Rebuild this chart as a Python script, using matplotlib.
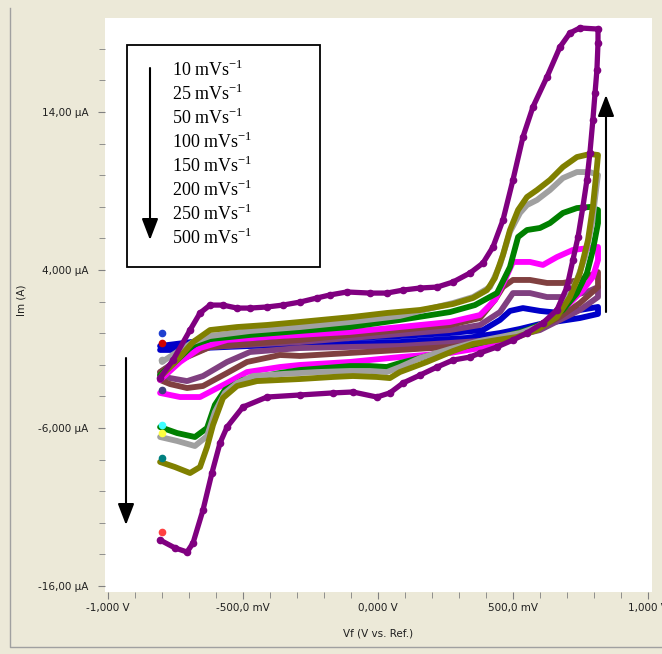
import matplotlib
matplotlib.use("Agg")
import matplotlib.pyplot as plt
from matplotlib.lines import Line2D
from matplotlib.patches import Rectangle

# cyclic voltammograms, potential in V, current in uA (forward scan then reverse)
v_10 = [-0.807, -0.659, -0.289, 0.081, 0.267, 0.389, 0.452, 0.489, 0.537, 0.600, 0.674, 0.748, 0.815,
        0.815, 0.748, 0.674, 0.600, 0.526, 0.452, 0.330, 0.081, -0.104, -0.289, -0.474, -0.659, -0.770, -0.807]
i_10 = [-0.81, -0.49, -0.43, -0.18, 0.01, 0.20, 0.84, 1.41, 1.59, 1.41, 1.28, 1.47, 1.66,
        1.22, 0.96, 0.77, 0.58, 0.27, 0.01, -0.30, -0.56, -0.68, -0.75, -0.81, -0.94, -1.06, -1.06]

v_25 = [-0.807, -0.733, -0.622, -0.289, 0.081, 0.267, 0.378, 0.452, 0.500, 0.563, 0.626, 0.700, 0.774, 0.815,
        0.815, 0.748, 0.674, 0.600, 0.526, 0.452, 0.378, 0.267, 0.081, -0.104, -0.289, -0.474, -0.559, -0.648,
        -0.707, -0.770, -0.807]
i_25 = [-2.46, -1.57, -0.87, -0.56, -0.05, 0.20, 0.52, 1.34, 2.54, 2.54, 2.29, 2.29, 2.61, 2.92,
        2.29, 1.47, 0.84, 0.20, -0.11, -0.37, -0.49, -0.62, -0.81, -0.87, -0.94, -1.19, -1.82, -2.71,
        -3.03, -2.84, -2.65]

v_50 = [-0.807, -0.733, -0.622, -0.289, 0.081, 0.267, 0.378, 0.433, 0.463, 0.500, 0.563, 0.626, 0.685, 0.748, 0.815,
        0.815, 0.748, 0.674, 0.600, 0.526, 0.452, 0.378, 0.267, 0.081, -0.104, -0.289, -0.363, -0.485, -0.559,
        -0.648, -0.707, -0.770, -0.807]
i_50 = [-2.46, -1.70, -0.87, -0.43, 0.20, 0.52, 0.96, 2.10, 2.92, 3.37, 3.37, 3.18, 3.18, 3.37, 3.87,
        2.92, 1.91, 1.03, 0.39, -0.05, -0.43, -0.68, -0.87, -1.06, -1.25, -1.44, -1.38, -1.82, -2.52,
        -3.34, -3.47, -3.22, -2.96]

v_100 = [-0.807, -0.733, -0.659, -0.559, -0.363, -0.104, 0.081, 0.267, 0.378, 0.433, 0.470, 0.500, 0.563, 0.611,
         0.663, 0.722, 0.815,
         0.815, 0.796, 0.759, 0.711, 0.648, 0.589, 0.515, 0.452, 0.378, 0.267, 0.081, -0.104, -0.289, -0.363,
         -0.485, -0.559, -0.659, -0.733, -0.807]
i_100 = [-2.96, -1.82, -0.94, -0.43, -0.18, 0.08, 0.39, 0.71, 1.15, 2.10, 3.37, 4.51, 4.51, 4.32,
         4.82, 5.27, 5.46,
         4.63, 3.56, 2.73, 1.91, 1.03, 0.39, -0.11, -0.56, -0.94, -1.25, -1.51, -1.82, -2.01, -2.14,
         -2.46, -3.15, -4.04, -4.04, -3.78]

v_150 = [-0.807, -0.744, -0.685, -0.622, -0.474, -0.289, -0.104, 0.081, 0.267, 0.359, 0.441, 0.489, 0.519, 0.552,
         0.600, 0.637, 0.685, 0.737, 0.785, 0.815,
         0.815, 0.796, 0.774, 0.737, 0.685, 0.626, 0.552, 0.452, 0.378, 0.267, 0.156, 0.081, 0.033, -0.030,
         -0.104, -0.289, -0.363, -0.500, -0.567, -0.604, -0.633, -0.678, -0.744, -0.807]
i_150 = [-2.65, -1.70, -0.75, -0.37, -0.11, 0.14, 0.39, 0.84, 1.34, 1.78, 2.54, 4.19, 6.09, 6.53,
         6.66, 6.97, 7.61, 7.92, 7.99, 7.80,
         6.97, 5.27, 3.81, 2.54, 1.47, 0.71, 0.20, -0.30, -0.62, -1.06, -1.57, -1.89, -2.14, -2.08,
         -2.08, -2.33, -2.52, -2.96, -3.59, -4.54, -6.00, -6.57, -6.32, -5.94]

v_200 = [-0.800, -0.744, -0.685, -0.622, -0.474, -0.289, -0.104, 0.081, 0.278, 0.352, 0.415, 0.452, 0.489, 0.526,
         0.552, 0.589, 0.637, 0.685, 0.737, 0.785, 0.815,
         0.811, 0.793, 0.767, 0.737, 0.700, 0.648, 0.589, 0.526, 0.452, 0.378, 0.267, 0.156, 0.081, 0.033,
         -0.030, -0.104, -0.226, -0.352, -0.463, -0.522, -0.567, -0.604, -0.633, -0.678, -0.744, -0.807]
i_200 = [-1.82, -1.19, -0.56, -0.18, 0.14, 0.39, 0.71, 1.09, 1.91, 2.29, 2.92, 4.32, 6.41, 7.61,
         8.11, 8.43, 9.06, 9.82, 10.20, 10.20, 10.01,
         9.51, 6.97, 4.82, 3.37, 2.10, 1.03, 0.39, 0.01, -0.24, -0.49, -1.00, -1.57, -2.14, -2.46,
         -2.39, -2.39, -2.46, -2.58, -2.71, -3.15, -3.78, -4.99, -6.51, -7.14, -6.82, -6.57]

v_250 = [-0.800, -0.744, -0.685, -0.622, -0.522, -0.411, -0.289, -0.093, 0.033, 0.156, 0.278, 0.352, 0.404, 0.433,
         0.463, 0.489, 0.519, 0.552, 0.589, 0.637, 0.685, 0.737, 0.785, 0.815,
         0.811, 0.796, 0.778, 0.748, 0.711, 0.663, 0.589, 0.515, 0.441, 0.352, 0.278, 0.181, 0.081, 0.044,
         -0.004, -0.093, -0.167, -0.289, -0.448, -0.522, -0.574, -0.611, -0.633, -0.659, -0.696, -0.752, -0.807]
i_250 = [-2.65, -1.70, -0.56, 0.20, 0.39, 0.52, 0.71, 1.03, 1.28, 1.47, 1.85, 2.23, 2.73, 3.49,
         4.95, 6.53, 7.80, 8.62, 9.06, 9.70, 10.52, 11.15, 11.34, 11.28,
         10.52, 7.99, 5.90, 3.81, 2.29, 1.03, 0.20, -0.24, -0.43, -0.68, -1.13, -1.82, -2.46, -2.84,
         -2.77, -2.71, -2.77, -2.90, -3.03, -3.34, -4.10, -5.81, -7.20, -8.47, -8.85, -8.47, -8.15]

v_500 = [-0.807, -0.759, -0.696, -0.659, -0.622, -0.574, -0.522, -0.474, -0.411, -0.352, -0.289, -0.226, -0.178,
         -0.115, -0.030, 0.033, 0.093, 0.156, 0.219, 0.278, 0.341, 0.389, 0.426, 0.463, 0.500, 0.537, 0.574,
         0.626, 0.674, 0.711, 0.748, 0.815,
         0.815, 0.811, 0.804, 0.796, 0.785, 0.774, 0.759, 0.741, 0.722, 0.700, 0.663, 0.611, 0.552, 0.500,
         0.441, 0.378, 0.341, 0.278, 0.219, 0.156, 0.093, 0.044, -0.004, -0.093, -0.167, -0.289, -0.411,
         -0.500, -0.559, -0.585, -0.615, -0.648, -0.685, -0.707, -0.752, -0.807]
i_500 = [-2.84, -1.70, 0.20, 1.28, 1.78, 1.78, 1.59, 1.59, 1.66, 1.78, 1.97, 2.23, 2.42,
         2.61, 2.54, 2.54, 2.73, 2.86, 2.92, 3.24, 3.81, 4.44, 5.46, 7.16, 9.70, 12.42, 14.32,
         16.22, 18.11, 19.00, 19.32, 19.25,
         18.37, 16.66, 15.20, 13.49, 11.41, 9.70, 7.99, 6.09, 4.63, 2.92, 1.47, 0.65, 0.01, -0.43,
         -0.87, -1.25, -1.51, -1.70, -2.14, -2.65, -3.15, -3.78, -4.04, -3.72, -3.78, -3.91, -4.04,
         -4.67, -5.94, -6.95, -8.85, -11.19, -13.28, -13.85, -13.59, -13.09]

scan_rates = [10, 25, 50, 100, 150, 200, 250, 500]
curve_colors = ["#0000C8", "#804080", "#804040", "#FF00FF", "#008000", "#A0A0A0", "#808000", "#800080"]
potentials = [v_10, v_25, v_50, v_100, v_150, v_200, v_250, v_500]
currents = [i_10, i_25, i_50, i_100, i_150, i_200, i_250, i_500]

# coloured markers at the scan start potential
start_v = -0.800
start_i = [0.0, -0.62, -1.70, -3.59, -5.81, -6.32, -7.90, -12.58]
start_colors = ["#2040D0", "#D00000", "#A0A0A0", "#404080", "#40FFFF", "#FFFF40", "#008080", "#FF4040"]

xtick_vals = [-1.0, -0.5, 0.0, 0.5, 1.0]
xtick_labels = ["-1,000 V", "-500,0 mV", "0,000 V", "500,0 mV", "1,000 V"]
ytick_vals = [14, 4, -6, -16]
ytick_labels = ["14,00 \u00b5A", "4,000 \u00b5A", "-6,000 \u00b5A", "-16,00 \u00b5A"]

W, H = 662, 654
BG = "#ECE9D8"

fig = plt.figure(figsize=(W / 100, H / 100), dpi=100, facecolor=BG)


def fx(px):
    return px / W


def fy(py):
    return 1 - py / H


ax = fig.add_axes([fx(105), fy(592), fx(652) - fx(105), fy(18) - fy(592)])
ax.set_facecolor("white")
for s in ax.spines.values():
    s.set_visible(False)

for v, i, c in zip(potentials, currents, curve_colors):
    if c == "#800080":
        ax.plot(v, i, color=c, lw=3.8, marker="o", ms=4.5, solid_capstyle="round",
                solid_joinstyle="round", zorder=3)
    else:
        ax.plot(v, i, color=c, lw=4.2, solid_capstyle="round", solid_joinstyle="round", zorder=2)

for yi, c in zip(start_i, start_colors):
    ax.plot([start_v], [yi], "o", color=c, ms=4.5, zorder=4)

ax.set_xlim(-1.011, 1.015)
ax.set_ylim(-16.38, 19.95)

ax.set_xticks(xtick_vals)
ax.set_xticklabels(xtick_labels)
ax.set_xticks([x / 10 for x in range(-10, 11)], minor=True)
ax.set_yticks(ytick_vals)
ax.set_yticklabels(ytick_labels)
ax.set_yticks(list(range(-16, 20, 2)), minor=True)
ax.tick_params(which="both", direction="out", color="#808080", labelsize=7.5, labelcolor="#202020")
ax.tick_params(which="major", length=5, pad=3)
ax.tick_params(which="minor", length=4)
ax.tick_params(axis="y", which="major", pad=7)

fig.text(fx(22), fy(300), "Im (A)", rotation=90, ha="center", va="center", fontsize=7.5, color="#202020")
fig.text(fx(378), fy(633), "Vf (V vs. Ref.)", ha="center", va="center", fontsize=7.5, color="#202020")

# window frame
fig.add_artist(Line2D([fx(10), fx(10), fx(662)], [fy(8), fy(647), fy(647)], color="#A0A0A0", lw=1))

# legend box with scan rates
fig.add_artist(Rectangle((fx(127), fy(267)), fx(320) - fx(127), fy(45) - fy(267),
                         fill=True, facecolor="white", edgecolor="black", lw=1.3, zorder=5))
for k, rate in enumerate(scan_rates):
    fig.text(fx(172), fy(70 + 24 * k), r"%d mVs$^{\mathregular{-1}}$" % rate,
             family="Liberation Serif", fontsize=13, ha="left", va="center", zorder=6)

arrow = dict(arrowstyle="-|>,head_length=1.3,head_width=0.5", lw=1.5, color="black",
             mutation_scale=10, shrinkA=0, shrinkB=0)
fig.add_artist(plt.annotate("", xy=(fx(150), fy(240)), xytext=(fx(150), fy(68)),
                            xycoords="figure fraction", arrowprops=arrow, zorder=6))
ax.annotate("", xy=(fx(126), fy(525)), xytext=(fx(126), fy(358)),
            xycoords="figure fraction", arrowprops=arrow)
ax.annotate("", xy=(fx(606), fy(95)), xytext=(fx(606), fy(312)),
            xycoords="figure fraction", arrowprops=arrow)

fig.savefig("out.png", dpi=100, facecolor=BG)
